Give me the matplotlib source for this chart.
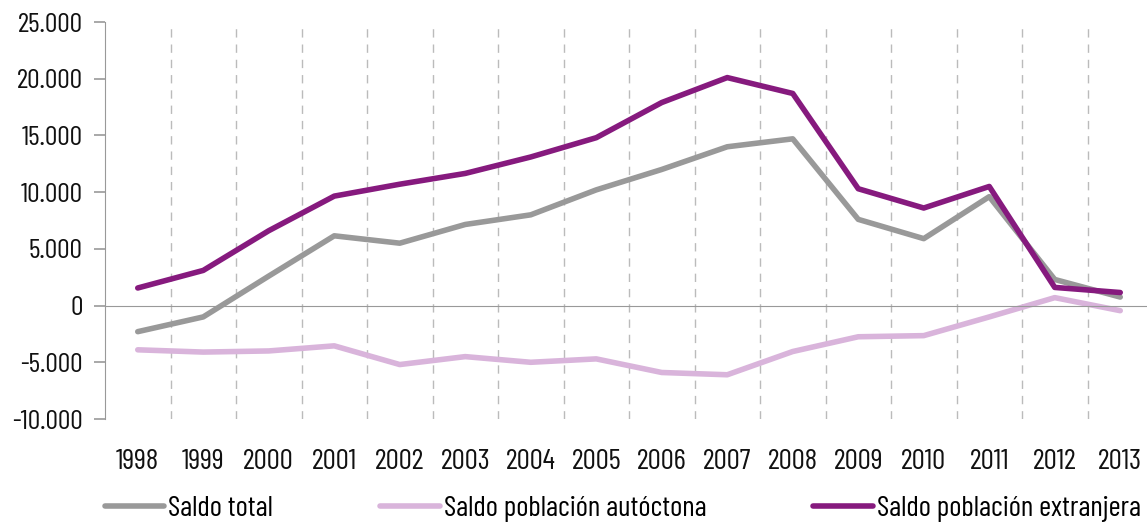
import numpy as np
import matplotlib.pyplot as plt
from matplotlib import font_manager
from matplotlib.transforms import blended_transform_factory
from matplotlib.ticker import FuncFormatter

# Data
years = ['1998', '1999', '2000', '2001', '2002', '2003', '2004', '2005',
         '2006', '2007', '2008', '2009', '2010', '2011', '2012', '2013']
saldo_total = [-2300, -1000, 2600, 6150, 5500, 7150, 8000, 10200,
               12000, 14000, 14700, 7600, 5900, 9600, 2300, 750]
saldo_autoctona = [-3900, -4100, -4000, -3550, -5200, -4500, -5000, -4700,
                   -5900, -6100, -4050, -2750, -2650, -1000, 700, -450]
saldo_extranjera = [1550, 3100, 6600, 9650, 10700, 11650, 13100, 14800,
                    17900, 20100, 18700, 10300, 8600, 10500, 1600, 1150]

# pick a condensed face if there is one
names = set(f.name for f in font_manager.fontManager.ttflist)
fam = 'DejaVu Sans'
for cand in ['Barlow Condensed', 'Roboto Condensed', 'Archivo Narrow', 'PT Sans Narrow',
             'Liberation Sans Narrow', 'Fira Sans Condensed', 'IBM Plex Sans Condensed']:
    if cand in names:
        fam = cand
        break
plt.rcParams['font.family'] = [fam, 'DejaVu Sans']
FS = 21

fig = plt.figure(figsize=(11.47, 5.24), dpi=100)
ax = fig.add_axes([105 / 1147, 1 - 419 / 524, 1048 / 1147, (419 - 22) / 524])

x = np.arange(len(years))
ax.plot(x, saldo_total, color='#999999', lw=4, label='Saldo total', solid_capstyle='round')
ax.plot(x, saldo_autoctona, color='#d9b4db', lw=4, label='Saldo población autóctona', solid_capstyle='round')
ax.plot(x, saldo_extranjera, color='#861a7e', lw=4, label='Saldo población extranjera', solid_capstyle='round')

ax.set_xlim(-0.5, len(years) - 0.5)
ax.set_ylim(-10000, 25000)
ax.set_yticks(np.arange(-10000, 25001, 5000))
ax.yaxis.set_major_formatter(FuncFormatter(lambda v, p: f'{int(v):,}'.replace(',', '.')))
ax.tick_params(axis='y', direction='out', length=8, width=1.2, color='#999999',
               labelsize=FS - 1, pad=8, labelcolor='#111111')

# vertical dashed separators
for b in np.arange(0.5, len(years) - 1, 1):
    ax.axvline(b, ymax=0.99, color='#bbbbbb', lw=1, ls=(0, (6, 5)), zorder=0)

ax.spines['bottom'].set_position(('data', 0))
ax.spines['bottom'].set_color('#999999')
ax.spines['left'].set_color('#999999')
ax.spines['top'].set_visible(False)
ax.spines['right'].set_visible(False)
ax.set_xticks(np.arange(-0.5, len(years), 1))
ax.tick_params(axis='x', direction='in', length=0, labelbottom=False)
ax.set_xticks(np.arange(0.5, len(years) - 1, 1), minor=True)
ax.tick_params(axis='x', which='minor', direction='out', length=8, width=1, color='#999999')

tr = blended_transform_factory(ax.transData, fig.transFigure)
for i, yr in enumerate(years):
    ax.text(i, 1 - 462 / 524, yr, transform=tr, ha='center', va='center',
            fontsize=FS, color='#111111')

ax.legend(loc='center left', bbox_to_anchor=(108 / 1147 - 0.003, 1 - 509 / 524),
          bbox_transform=fig.transFigure, ncol=3, frameon=False, fontsize=FS,
          handlelength=2.05, handletextpad=0.14, columnspacing=3.65,
          borderaxespad=0, borderpad=0)

fig.savefig('out.png', dpi=100)
